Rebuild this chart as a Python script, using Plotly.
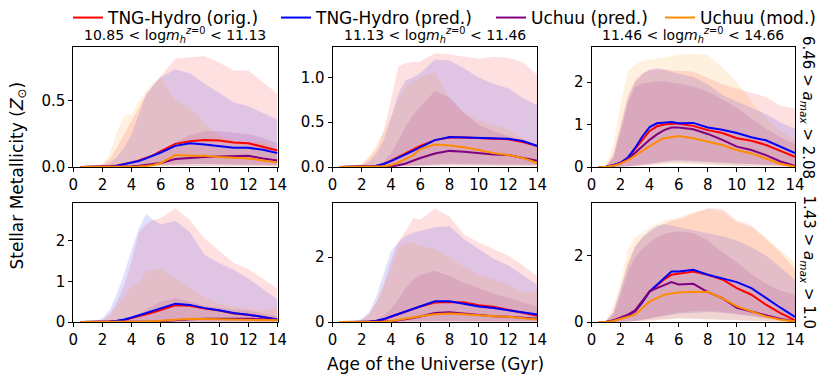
import plotly.graph_objects as go
from plotly.subplots import make_subplots

# age of the universe (Gyr)
X = [0.5, 1, 1.5, 2, 2.5, 3, 3.5, 4, 4.5, 5, 5.5, 6, 7, 8, 9, 10, 11, 12, 13, 14]

# --- top left: 10.85 < log m_h < 11.13, 6.46 > a_max > 2.08
tl_orig = [0, 0, 0, 0.002, 0.005, 0.012, 0.022, 0.035, 0.05, 0.07, 0.09, 0.12, 0.175, 0.195, 0.205, 0.2, 0.185, 0.18, 0.155, 0.125]
tl_orig_hi = [0, 0.002, 0.008, 0.02, 0.06, 0.15, 0.25, 0.35, 0.45, 0.55, 0.62, 0.69, 0.82, 0.83, 0.84, 0.79, 0.73, 0.73, 0.64, 0.555]
tl_orig_lo = [0, 0, 0, 0, 0, 0, 0, 0.002, 0.004, 0.006, 0.008, 0.01, 0.02, 0.025, 0.025, 0.025, 0.022, 0.02, 0.018, 0.015]
tl_pred = [0, 0, 0, 0.001, 0.004, 0.01, 0.02, 0.03, 0.045, 0.065, 0.085, 0.11, 0.16, 0.18, 0.17, 0.155, 0.145, 0.145, 0.13, 0.105]
tl_pred_hi = [0, 0, 0.003, 0.01, 0.03, 0.08, 0.15, 0.25, 0.4, 0.55, 0.62, 0.68, 0.74, 0.71, 0.63, 0.56, 0.49, 0.46, 0.41, 0.36]
tl_pred_lo = [0, 0, 0, 0, 0, 0, 0, 0.001, 0.003, 0.005, 0.007, 0.01, 0.018, 0.022, 0.022, 0.02, 0.02, 0.018, 0.015, 0.012]
tl_uchuu = [0, 0, 0, 0, 0, 0, 0, 0.005, 0.01, 0.015, 0.022, 0.03, 0.06, 0.07, 0.075, 0.08, 0.08, 0.085, 0.065, 0.05]
tl_uchuu_hi = [0, 0, 0, 0, 0, 0, 0.01, 0.02, 0.04, 0.06, 0.09, 0.12, 0.19, 0.24, 0.27, 0.27, 0.26, 0.25, 0.22, 0.18]
tl_uchuu_lo = [0, 0, 0, 0, 0, 0, 0, 0, 0, 0.001, 0.002, 0.003, 0.005, 0.007, 0.008, 0.008, 0.008, 0.008, 0.006, 0.005]
tl_mod = [0, 0, 0, 0, 0, 0, 0, 0.001, 0.003, 0.008, 0.015, 0.03, 0.09, 0.085, 0.085, 0.075, 0.07, 0.065, 0.05, 0.035]
tl_mod_hi = [0, 0, 0.003, 0.02, 0.1, 0.27, 0.39, 0.4, 0.5, 0.58, 0.64, 0.68, 0.5, 0.45, 0.33, 0.24, 0.2, 0.18, 0.2, 0.13]
tl_mod_lo = [0, 0, 0, 0, 0, 0, 0, 0, 0, 0.001, 0.002, 0.003, 0.006, 0.007, 0.007, 0.006, 0.006, 0.005, 0.004, 0.003]

# --- top middle: 11.13 < log m_h < 11.46
tm_orig = [0, 0, 0, 0.003, 0.007, 0.015, 0.035, 0.07, 0.11, 0.15, 0.19, 0.235, 0.3, 0.33, 0.33, 0.32, 0.315, 0.31, 0.28, 0.235]
tm_orig_hi = [0, 0.003, 0.01, 0.03, 0.1, 0.2, 0.4, 0.75, 1.12, 1.16, 1.17, 1.18, 1.27, 1.26, 1.23, 1.21, 1.23, 1.22, 1.17, 1.03]
tm_orig_lo = [0, 0, 0, 0, 0, 0.001, 0.002, 0.004, 0.008, 0.012, 0.016, 0.02, 0.03, 0.035, 0.035, 0.035, 0.035, 0.03, 0.028, 0.025]
tm_pred = [0, 0, 0, 0.003, 0.007, 0.015, 0.033, 0.065, 0.1, 0.14, 0.18, 0.22, 0.3, 0.335, 0.33, 0.325, 0.32, 0.315, 0.29, 0.235]
tm_pred_hi = [0, 0.002, 0.008, 0.02, 0.06, 0.15, 0.3, 0.55, 0.82, 0.97, 1.0, 1.05, 1.2, 1.19, 1.1, 1.0, 0.93, 0.88, 0.77, 0.69]
tm_pred_lo = [0, 0, 0, 0, 0, 0.001, 0.002, 0.004, 0.007, 0.011, 0.015, 0.02, 0.028, 0.033, 0.033, 0.032, 0.03, 0.028, 0.025, 0.022]
tm_uchuu = [0, 0, 0, 0, 0, 0, 0.002, 0.008, 0.02, 0.04, 0.07, 0.1, 0.15, 0.18, 0.17, 0.155, 0.14, 0.135, 0.105, 0.07]
tm_uchuu_hi = [0, 0, 0, 0, 0.005, 0.02, 0.06, 0.15, 0.3, 0.45, 0.58, 0.67, 0.85, 0.78, 0.6, 0.47, 0.4, 0.35, 0.3, 0.23]
tm_uchuu_lo = [0, 0, 0, 0, 0, 0, 0, 0, 0.001, 0.003, 0.005, 0.008, 0.012, 0.015, 0.015, 0.014, 0.012, 0.012, 0.01, 0.008]
tm_mod = [0, 0, 0, 0, 0, 0.003, 0.008, 0.02, 0.05, 0.09, 0.13, 0.2, 0.25, 0.24, 0.22, 0.19, 0.155, 0.135, 0.1, 0.045]
tm_mod_hi = [0, 0, 0.005, 0.03, 0.12, 0.25, 0.4, 0.55, 0.75, 0.9, 0.95, 1.0, 1.06, 0.75, 0.6, 0.52, 0.47, 0.42, 0.33, 0.25]
tm_mod_lo = [0, 0, 0, 0, 0, 0, 0, 0.001, 0.003, 0.006, 0.01, 0.015, 0.02, 0.02, 0.018, 0.015, 0.012, 0.01, 0.008, 0.004]

# --- top right: 11.46 < log m_h < 14.66
tr_orig = [0, 0.005, 0.04, 0.1, 0.21, 0.42, 0.65, 0.85, 0.96, 1.0, 1.02, 1.02, 0.97, 0.87, 0.8, 0.68, 0.62, 0.52, 0.38, 0.24]
tr_orig_hi = [0, 0.03, 0.3, 1.0, 1.7, 2.05, 2.2, 2.28, 2.3, 2.3, 2.28, 2.27, 2.25, 2.1, 1.95, 1.85, 1.75, 1.65, 1.45, 1.38]
tr_orig_lo = [0, 0, 0, 0.005, 0.015, 0.03, 0.05, 0.08, 0.11, 0.14, 0.16, 0.17, 0.15, 0.12, 0.1, 0.08, 0.06, 0.05, 0.04, 0.03]
tr_pred = [0, 0.005, 0.04, 0.1, 0.22, 0.45, 0.72, 0.94, 1.03, 1.05, 1.06, 1.03, 1.04, 0.93, 0.88, 0.8, 0.7, 0.63, 0.48, 0.33]
tr_pred_hi = [0, 0.02, 0.25, 0.9, 1.6, 2.0, 2.2, 2.3, 2.33, 2.3, 2.25, 2.2, 2.12, 1.95, 1.7, 1.55, 1.4, 1.25, 1.05, 0.9]
tr_pred_lo = [0, 0, 0, 0.005, 0.012, 0.025, 0.045, 0.07, 0.1, 0.12, 0.14, 0.15, 0.14, 0.12, 0.1, 0.08, 0.06, 0.05, 0.04, 0.03]
tr_uchuu = [0, 0.005, 0.03, 0.09, 0.18, 0.33, 0.5, 0.64, 0.77, 0.87, 0.93, 0.93, 0.89, 0.78, 0.64, 0.48, 0.4, 0.28, 0.13, 0.03]
tr_uchuu_hi = [0, 0.02, 0.2, 0.8, 1.5, 1.9, 1.97, 2.0, 2.02, 2.02, 2.0, 1.97, 1.9, 1.78, 1.6, 1.4, 1.15, 0.9, 0.7, 0.55]
tr_uchuu_lo = [0, 0, 0, 0.003, 0.01, 0.02, 0.035, 0.05, 0.07, 0.09, 0.1, 0.1, 0.09, 0.07, 0.05, 0.03, 0.02, 0.012, 0.006, 0.002]
tr_mod = [0, 0.005, 0.03, 0.08, 0.16, 0.27, 0.4, 0.5, 0.6, 0.68, 0.71, 0.73, 0.68, 0.6, 0.52, 0.4, 0.32, 0.2, 0.07, 0.01]
tr_mod_hi = [0, 0.05, 0.5, 1.5, 2.25, 2.42, 2.5, 2.53, 2.57, 2.6, 2.63, 2.65, 2.67, 2.65, 2.35, 2.0, 1.55, 1.15, 0.85, 0.65]
tr_mod_lo = [0, 0, 0, 0.003, 0.008, 0.015, 0.025, 0.04, 0.05, 0.06, 0.07, 0.07, 0.065, 0.05, 0.04, 0.03, 0.02, 0.01, 0.004, 0.001]

# --- bottom left: 1.43 > a_max > 1.0
bl_orig = [0, 0, 0, 0.004, 0.01, 0.025, 0.05, 0.1, 0.14, 0.19, 0.24, 0.3, 0.41, 0.4, 0.33, 0.28, 0.21, 0.18, 0.12, 0.06]
bl_orig_hi = [0, 0.002, 0.01, 0.05, 0.2, 0.5, 0.9, 1.5, 2.2, 2.4, 2.5, 2.55, 2.8, 2.5, 2.05, 1.75, 1.45, 1.3, 1.05, 0.82]
bl_orig_lo = [0, 0, 0, 0, 0, 0, 0, 0.001, 0.002, 0.003, 0.005, 0.007, 0.01, 0.012, 0.012, 0.01, 0.009, 0.008, 0.006, 0.004]
bl_pred = [0, 0, 0, 0.005, 0.01, 0.03, 0.06, 0.11, 0.16, 0.22, 0.28, 0.34, 0.45, 0.42, 0.34, 0.29, 0.22, 0.18, 0.12, 0.06]
bl_pred_hi = [0, 0.003, 0.02, 0.1, 0.3, 0.7, 1.2, 1.78, 2.3, 2.65, 2.5, 2.4, 2.48, 2.2, 1.65, 1.45, 1.28, 1.07, 0.8, 0.55]
bl_pred_lo = [0, 0, 0, 0, 0, 0, 0, 0.001, 0.002, 0.003, 0.005, 0.007, 0.01, 0.012, 0.012, 0.01, 0.009, 0.008, 0.006, 0.004]
bl_uchuu = [0, 0, 0, 0, 0, 0, 0, 0, 0.002, 0.005, 0.01, 0.02, 0.05, 0.07, 0.08, 0.085, 0.085, 0.08, 0.065, 0.05]
bl_uchuu_hi = [0, 0, 0, 0, 0.005, 0.02, 0.05, 0.1, 0.2, 0.3, 0.4, 0.5, 0.58, 0.5, 0.4, 0.35, 0.3, 0.28, 0.2, 0.15]
bl_uchuu_lo = [0, 0, 0, 0, 0, 0, 0, 0, 0, 0, 0.001, 0.002, 0.004, 0.005, 0.006, 0.006, 0.006, 0.005, 0.004, 0.003]
bl_mod = [0, 0, 0, 0, 0, 0, 0, 0.002, 0.005, 0.01, 0.02, 0.03, 0.06, 0.08, 0.075, 0.07, 0.06, 0.055, 0.045, 0.04]
bl_mod_hi = [0, 0, 0.003, 0.02, 0.12, 0.4, 0.6, 0.88, 0.92, 1.25, 1.28, 1.3, 1.05, 0.85, 0.6, 0.45, 0.38, 0.33, 0.28, 0.38]
bl_mod_lo = [0, 0, 0, 0, 0, 0, 0, 0, 0, 0.001, 0.002, 0.003, 0.005, 0.006, 0.006, 0.005, 0.005, 0.004, 0.004, 0.003]

# --- bottom middle
bm_orig = [0, 0, 0, 0.005, 0.01, 0.035, 0.08, 0.16, 0.24, 0.32, 0.4, 0.48, 0.6, 0.62, 0.6, 0.52, 0.47, 0.38, 0.28, 0.19]
bm_orig_hi = [0, 0.003, 0.02, 0.08, 0.25, 0.6, 1.15, 1.9, 2.5, 2.8, 3.2, 3.15, 3.5, 3.25, 2.7, 2.45, 2.25, 2.05, 1.75, 1.4]
bm_orig_lo = [0, 0, 0, 0, 0, 0.001, 0.003, 0.006, 0.01, 0.015, 0.02, 0.025, 0.03, 0.035, 0.035, 0.03, 0.028, 0.025, 0.02, 0.015]
bm_pred = [0, 0, 0, 0.005, 0.01, 0.04, 0.09, 0.17, 0.25, 0.33, 0.42, 0.5, 0.64, 0.64, 0.56, 0.48, 0.43, 0.36, 0.28, 0.23]
bm_pred_hi = [0, 0.003, 0.02, 0.1, 0.3, 0.8, 1.5, 2.2, 2.45, 2.65, 2.75, 2.8, 2.92, 2.95, 2.55, 2.25, 1.95, 1.75, 1.45, 1.15]
bm_pred_lo = [0, 0, 0, 0, 0, 0.001, 0.003, 0.006, 0.01, 0.015, 0.02, 0.025, 0.03, 0.035, 0.035, 0.03, 0.028, 0.025, 0.02, 0.015]
bm_uchuu = [0, 0, 0, 0, 0, 0, 0.005, 0.02, 0.05, 0.08, 0.12, 0.17, 0.28, 0.3, 0.26, 0.2, 0.18, 0.16, 0.14, 0.1]
bm_uchuu_hi = [0, 0, 0, 0, 0.02, 0.08, 0.2, 0.4, 0.7, 1.05, 1.3, 1.45, 1.58, 1.42, 1.2, 1.05, 0.88, 0.75, 0.6, 0.48]
bm_uchuu_lo = [0, 0, 0, 0, 0, 0, 0, 0.001, 0.003, 0.005, 0.008, 0.01, 0.015, 0.018, 0.016, 0.014, 0.012, 0.01, 0.008, 0.006]
bm_mod = [0, 0, 0, 0, 0, 0.003, 0.01, 0.03, 0.07, 0.11, 0.15, 0.18, 0.24, 0.26, 0.24, 0.2, 0.18, 0.16, 0.12, 0.08]
bm_mod_hi = [0, 0, 0.01, 0.05, 0.2, 0.6, 1.1, 1.6, 2.3, 2.45, 2.45, 2.35, 2.25, 2.0, 1.7, 1.45, 1.32, 1.15, 0.9, 0.95]
bm_mod_lo = [0, 0, 0, 0, 0, 0, 0, 0.001, 0.003, 0.005, 0.008, 0.01, 0.014, 0.016, 0.015, 0.012, 0.01, 0.008, 0.006, 0.004]

# --- bottom right
br_orig = [0, 0.003, 0.04, 0.11, 0.2, 0.32, 0.6, 0.92, 1.1, 1.28, 1.42, 1.45, 1.52, 1.42, 1.28, 1.02, 0.82, 0.52, 0.27, 0.05]
br_orig_hi = [0, 0.03, 0.3, 1.0, 1.8, 2.3, 2.55, 2.7, 2.85, 2.95, 3.05, 3.1, 3.25, 3.42, 3.4, 3.05, 2.9, 2.5, 2.1, 1.6]
br_orig_lo = [0, 0, 0, 0.005, 0.015, 0.03, 0.06, 0.1, 0.15, 0.2, 0.25, 0.28, 0.32, 0.33, 0.3, 0.25, 0.18, 0.1, 0.05, 0.01]
br_pred = [0, 0.003, 0.04, 0.11, 0.2, 0.33, 0.6, 0.92, 1.12, 1.35, 1.52, 1.52, 1.57, 1.42, 1.3, 1.2, 1.02, 0.72, 0.43, 0.15]
br_pred_hi = [0, 0.03, 0.3, 1.0, 1.7, 2.25, 2.55, 2.75, 2.9, 2.95, 2.9, 2.85, 2.77, 2.67, 2.58, 2.45, 2.25, 2.0, 1.65, 1.27]
br_pred_lo = [0, 0, 0, 0.005, 0.015, 0.03, 0.06, 0.1, 0.14, 0.18, 0.22, 0.25, 0.28, 0.3, 0.28, 0.24, 0.18, 0.12, 0.06, 0.02]
br_uchuu = [0, 0.003, 0.05, 0.13, 0.22, 0.35, 0.62, 0.92, 1.02, 1.1, 1.2, 1.13, 1.15, 0.9, 0.72, 0.43, 0.32, 0.22, 0.09, 0.02]
br_uchuu_hi = [0, 0.02, 0.2, 0.8, 1.5, 1.95, 2.2, 2.4, 2.55, 2.65, 2.7, 2.72, 2.68, 2.45, 2.1, 1.8, 1.45, 1.15, 0.95, 0.82]
br_uchuu_lo = [0, 0, 0, 0.003, 0.01, 0.02, 0.035, 0.05, 0.07, 0.09, 0.1, 0.11, 0.11, 0.09, 0.07, 0.05, 0.03, 0.02, 0.01, 0.003]
br_mod = [0, 0.003, 0.03, 0.09, 0.15, 0.22, 0.42, 0.62, 0.72, 0.82, 0.86, 0.89, 0.91, 0.9, 0.72, 0.47, 0.32, 0.17, 0.07, 0.02]
br_mod_hi = [0, 0.05, 0.5, 1.2, 2.2, 2.55, 2.7, 2.85, 2.95, 3.05, 3.1, 3.15, 3.3, 3.4, 3.3, 3.0, 2.85, 2.55, 2.15, 1.8]
br_mod_lo = [0, 0, 0, 0.003, 0.008, 0.015, 0.025, 0.04, 0.06, 0.08, 0.09, 0.1, 0.1, 0.09, 0.07, 0.05, 0.03, 0.015, 0.006, 0.002]

names = ["TNG-Hydro (orig.)", "TNG-Hydro (pred.)", "Uchuu (pred.)", "Uchuu (mod.)"]
colors = ["#ff0000", "#0000ff", "#800080", "#ff8c00"]
fills = ["rgba(255,0,0,0.12)", "rgba(0,0,255,0.12)", "rgba(128,0,128,0.12)", "rgba(255,140,0,0.12)"]

mass_bins = ["10.85", "11.13", "11.46", "14.66"]
amax_rows = [("6.46", "2.08"), ("1.43", "1.0")]
y_max = [[0.908, 1.34, 2.83], [2.92, 3.67, 3.58]]
y_dtick = [[0.5, 0.5, 1], [1, 2, 2]]
y_fmt = [[".1f", ".1f", "d"], ["d", "d", "d"]]

panels = [
    [[(tl_orig, tl_orig_lo, tl_orig_hi), (tl_pred, tl_pred_lo, tl_pred_hi), (tl_uchuu, tl_uchuu_lo, tl_uchuu_hi), (tl_mod, tl_mod_lo, tl_mod_hi)],
     [(tm_orig, tm_orig_lo, tm_orig_hi), (tm_pred, tm_pred_lo, tm_pred_hi), (tm_uchuu, tm_uchuu_lo, tm_uchuu_hi), (tm_mod, tm_mod_lo, tm_mod_hi)],
     [(tr_orig, tr_orig_lo, tr_orig_hi), (tr_pred, tr_pred_lo, tr_pred_hi), (tr_uchuu, tr_uchuu_lo, tr_uchuu_hi), (tr_mod, tr_mod_lo, tr_mod_hi)]],
    [[(bl_orig, bl_orig_lo, bl_orig_hi), (bl_pred, bl_pred_lo, bl_pred_hi), (bl_uchuu, bl_uchuu_lo, bl_uchuu_hi), (bl_mod, bl_mod_lo, bl_mod_hi)],
     [(bm_orig, bm_orig_lo, bm_orig_hi), (bm_pred, bm_pred_lo, bm_pred_hi), (bm_uchuu, bm_uchuu_lo, bm_uchuu_hi), (bm_mod, bm_mod_lo, bm_mod_hi)],
     [(br_orig, br_orig_lo, br_orig_hi), (br_pred, br_pred_lo, br_pred_hi), (br_uchuu, br_uchuu_lo, br_uchuu_hi), (br_mod, br_mod_lo, br_mod_hi)]],
]

# the page body has an 8px margin, so the figure is drawn 8px in and kept that much smaller
OFF = 8
W, H = 831 - OFF, 383 - OFF
FONT = "DejaVu Sans"


def xp(px):
    return (px - OFF) / W


def yp(py):
    return 1 - (py - OFF) / H


x_dom = [(73.3, 277.5), (332.5, 537.4), (591.5, 795.0)]
y_dom = [(47, 167), (203, 322)]

fig = make_subplots(rows=2, cols=3)
legend_ids = ["legend", "legend2", "legend3", "legend4"]

for r in range(2):
    for c in range(3):
        series = panels[r][c]
        # shaded ranges first
        for k, (med, lo, hi) in enumerate(series):
            fig.add_trace(go.Scatter(x=X + X[::-1], y=hi + lo[::-1], fill="toself",
                                     fillcolor=fills[k], line=dict(width=0), mode="lines",
                                     hoverinfo="skip", showlegend=False), row=r + 1, col=c + 1)
        for k, (med, lo, hi) in enumerate(series):
            fig.add_trace(go.Scatter(x=X, y=med, mode="lines", name=names[k],
                                     line=dict(color=colors[k], width=2),
                                     showlegend=(r == 0 and c == 0), legend=legend_ids[k]),
                          row=r + 1, col=c + 1)
        fig.update_xaxes(domain=[xp(x_dom[c][0]), xp(x_dom[c][1])], range=[0, 14], dtick=2,
                         row=r + 1, col=c + 1)
        fig.update_yaxes(domain=[yp(y_dom[r][1]), yp(y_dom[r][0])], range=[0, y_max[r][c]],
                         dtick=y_dtick[r][c], tickformat=y_fmt[r][c], row=r + 1, col=c + 1)

axis_style = dict(showline=True, mirror=True, linecolor="black", linewidth=1, showgrid=False,
                  zeroline=False, ticks="outside", ticklen=4, tickcolor="black",
                  tickfont=dict(family=FONT, size=15, color="black"), automargin=False)
fig.update_xaxes(**axis_style)
fig.update_yaxes(**axis_style)

annotations = []
for c in range(3):
    xc = xp((x_dom[c][0] + x_dom[c][1]) / 2)
    txt = f"{mass_bins[c]} &lt; log<i>m</i><sub><i>h</i></sub><sup><i>z</i>=0</sup> &lt; {mass_bins[c + 1]}"
    annotations.append(dict(text=txt, x=xc, y=yp(35), xanchor="center", yanchor="middle",
                            showarrow=False, font=dict(family=FONT, size=14, color="black")))
for r in range(2):
    yc = yp((y_dom[r][0] + y_dom[r][1]) / 2)
    hi_a, lo_a = amax_rows[r]
    annotations.append(dict(text=f"{hi_a} &gt; <i>a</i><sub><i>max</i></sub> &gt; {lo_a}",
                            x=xp(808), y=yc, xanchor="center", yanchor="middle", textangle=90,
                            showarrow=False, font=dict(family=FONT, size=15, color="black")))
annotations.append(dict(text="Stellar Metallicity (<i>Z</i><sub>⊙</sub>)", x=xp(18.5), y=yp(176),
                        xanchor="center", yanchor="middle", textangle=-90, showarrow=False,
                        font=dict(family=FONT, size=17, color="black")))
annotations.append(dict(text="Age of the Universe (Gyr)", x=xp(435), y=yp(364),
                        xanchor="center", yanchor="middle", showarrow=False,
                        font=dict(family=FONT, size=17, color="black")))
for a in annotations:
    a["xref"] = "paper"
    a["yref"] = "paper"

text_starts = [108, 316, 531, 700]
legend_layout = {}
for k, lid in enumerate(legend_ids):
    legend_layout[lid] = dict(x=xp(text_starts[k] - 40), y=yp(18), xanchor="left",
                              yanchor="middle", orientation="h", bgcolor="rgba(0,0,0,0)",
                              font=dict(family=FONT, size=17, color="black"))

fig.update_layout(width=W, height=H, margin=dict(l=0, r=0, t=0, b=0, autoexpand=False),
                  template="none", plot_bgcolor="white", paper_bgcolor="white",
                  annotations=annotations, font=dict(family=FONT, color="black"), **legend_layout)

fig.write_html("out.html")
